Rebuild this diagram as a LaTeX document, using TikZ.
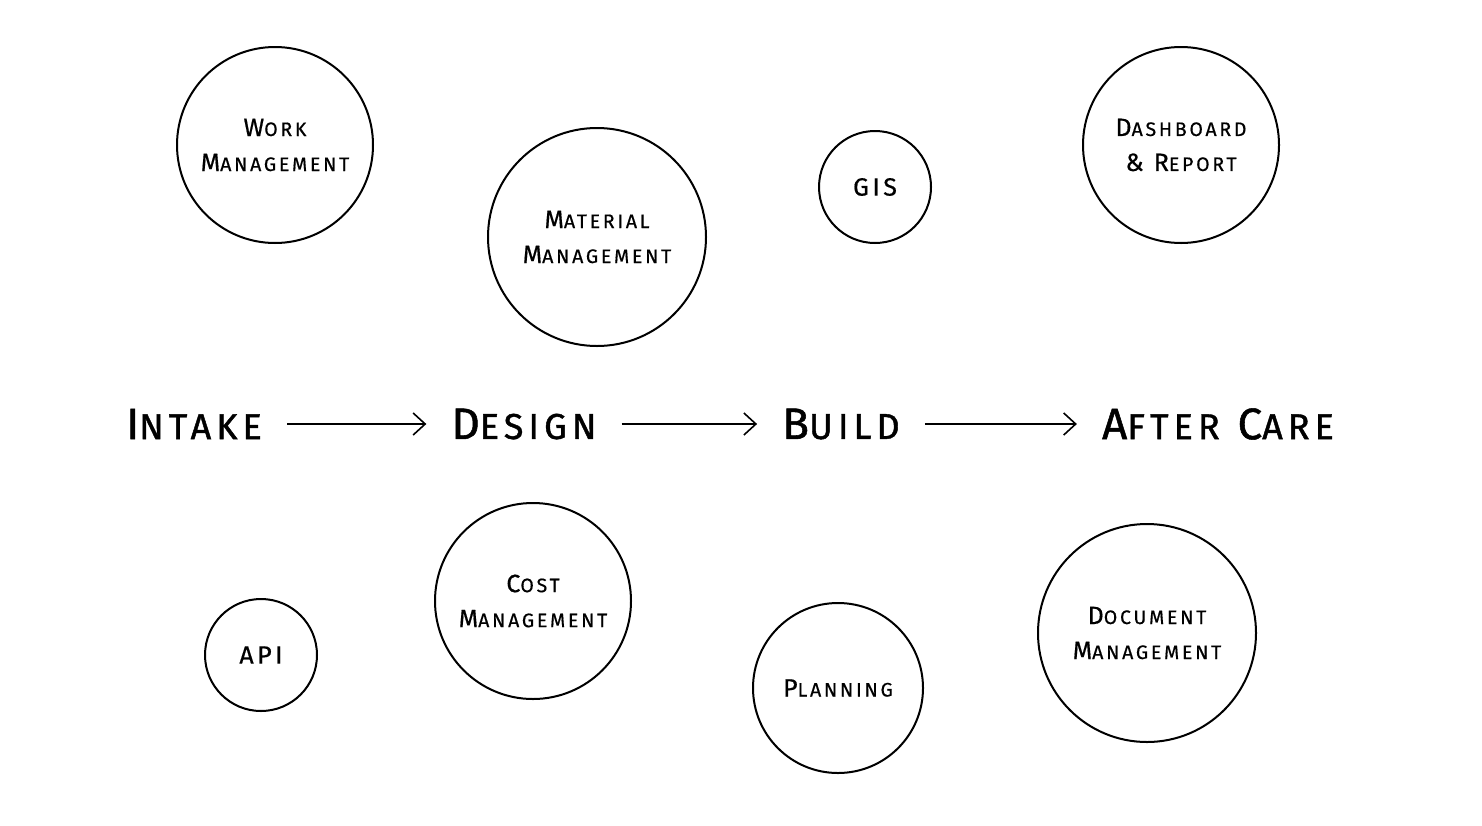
\documentclass[tikz,border=0pt]{standalone}
\usepackage{fontspec}
\setmainfont{Fira Sans}[LetterSpace=14]
\usetikzlibrary{arrows.meta}
\newcommand\BL[2]{{\fontsize{44}{44}\selectfont #1}{\fontsize{36}{36}\selectfont #2}}
\newcommand\SL[2]{{\fontsize{25}{35}\selectfont #1}{\fontsize{19.5}{35}\selectfont #2}}
\tikzset{
  bubble/.style={draw, circle, line width=2pt, inner sep=0pt, align=center, font=\fontsize{25}{35}\selectfont\addfontfeatures{FakeBold=0.6}},
  stage/.style={inner sep=0pt, font=\fontsize{44}{44}\selectfont\addfontfeatures{FakeBold=1.2}},
  flow/.style={line width=2.6pt, shorten <=25pt, shorten >=25pt, -{Straight Barb[length=12pt, width=22pt, line width=1.6pt]}}
}
\begin{document}
\begin{tikzpicture}[x=1pt, y=-1pt]
\useasboundingbox (0,0) rectangle (1482,825);
% stages
\node[stage] (intake) at (194,424) {\BL{I}{NTAKE}};
\node[stage] (design) at (524,424) {\BL{D}{ESIGN}};
\node[stage] (build) at (841,424) {\BL{B}{UILD}};
\node[stage] (after) at (1218,424) {\BL{A}{FTER} \BL{C}{ARE}};
\draw[flow] (intake) -- (design);
\draw[flow] (design) -- (build);
\draw[flow] (build) -- (after);
% bubbles
\node[bubble, minimum size=196pt] (work) at (275,145) {\SL{W}{ORK}\\\SL{M}{ANAGEMENT}};
\node[bubble, minimum size=218pt] (material) at (597,237) {\SL{M}{ATERIAL}\\\SL{M}{ANAGEMENT}};
\node[bubble, minimum size=112pt] (gis) at (875,187) {\SL{GIS}{}};
\node[bubble, minimum size=196pt] (dash) at (1181,145) {\SL{D}{ASHBOARD}\\\SL{\&}{} \SL{R}{EPORT}};
\node[bubble, minimum size=112pt] (api) at (261,655) {\SL{API}{}};
\node[bubble, minimum size=196pt] (cost) at (533,601) {\SL{C}{OST}\\\SL{M}{ANAGEMENT}};
\node[bubble, minimum size=170pt] (plan) at (838,688) {\SL{P}{LANNING}};
\node[bubble, minimum size=218pt] (doc) at (1147,633) {\SL{D}{OCUMENT}\\\SL{M}{ANAGEMENT}};
\end{tikzpicture}
\end{document}
